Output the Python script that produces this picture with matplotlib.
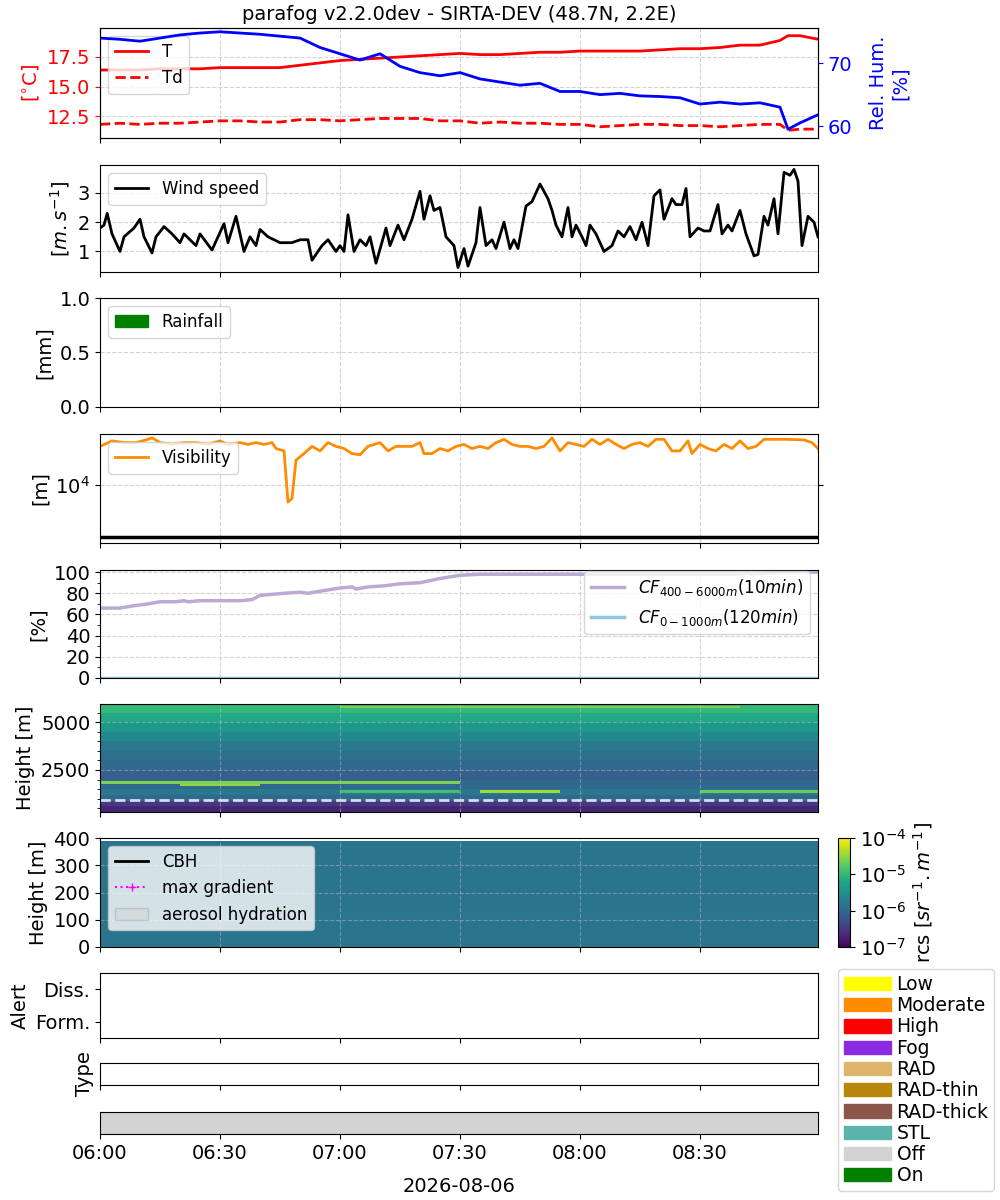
import numpy as np
import matplotlib
matplotlib.use("Agg")
import matplotlib.pyplot as plt
import matplotlib.dates as mdates
from matplotlib.colors import LogNorm
from matplotlib.patches import Patch
from matplotlib.lines import Line2D

t0 = np.datetime64("2026-08-06T06:00")
t_end = np.datetime64("2026-08-06T08:59:30")

# temperature / humidity (minutes after 06:00)
met_min = [0, 5, 10, 15, 20, 25, 30, 35, 40, 45, 50, 55, 60, 65, 70, 75, 80, 85, 90, 95,
           100, 105, 110, 115, 120, 125, 130, 135, 140, 145, 150, 155, 160, 165, 170, 172, 175, 179.5]
temp = [16.4, 16.4, 16.4, 16.5, 16.5, 16.5, 16.6, 16.6, 16.6, 16.6, 16.8, 17.0, 17.2, 17.3, 17.4,
        17.5, 17.6, 17.7, 17.8, 17.7, 17.7, 17.8, 17.9, 17.9, 18.0, 18.0, 18.0, 18.0, 18.1, 18.2,
        18.2, 18.3, 18.5, 18.5, 18.9, 19.3, 19.3, 19.0]
dewp = [11.8, 11.9, 11.8, 11.9, 11.9, 12.0, 12.1, 12.1, 12.0, 12.0, 12.2, 12.2, 12.1, 12.2, 12.3,
        12.3, 12.3, 12.1, 12.1, 11.9, 12.0, 11.9, 11.9, 11.8, 11.8, 11.6, 11.7, 11.8, 11.8, 11.7,
        11.7, 11.6, 11.7, 11.8, 11.8, 11.3, 11.4, 11.4]
rh = [74.0, 73.8, 73.5, 74.0, 74.5, 74.8, 75.0, 74.8, 74.6, 74.3, 74.0, 72.5, 71.5, 70.5, 71.5,
      69.5, 68.5, 68.0, 68.5, 67.5, 67.0, 66.5, 66.8, 65.5, 65.5, 65.0, 65.2, 64.8, 64.7, 64.5,
      63.5, 63.8, 63.5, 63.7, 63.0, 59.5, 60.5, 61.8]

# wind speed
wind_min = [0, 1, 1.8, 3, 5, 6, 8.5, 10, 11, 13, 14, 16, 18, 20, 21, 24, 25, 28, 31, 32, 34, 36,
            37.5, 39, 40, 42, 45, 48, 50, 52, 53, 55.5, 57, 59, 60, 61, 62, 63.5, 65, 66.5, 67.5,
            69, 71.5, 72.5, 74.5, 76, 78, 80, 81, 82.5, 83.5, 85, 86.5, 88.5, 89.5, 91, 92, 94,
            95, 96.5, 98, 99, 101, 102.5, 103.5, 104.5, 106.5, 108, 110, 112, 113, 114, 115.5,
            117, 118, 119, 120.5, 121.5, 122.5, 124, 126, 128, 129.5, 131, 132.5, 134, 135.5,
            137, 138.5, 140, 141, 143, 144, 145.5, 146.5, 147.5, 149.5, 151, 152.5, 154.5,
            155.5, 157, 158, 160, 161.5, 163.5, 164.5, 166, 167, 168.5, 169.5, 171, 172.5,
            173.5, 174.5, 175.5, 177, 178.5, 179.5]
wind = [1.8, 1.9, 2.3, 1.6, 1.0, 1.5, 1.8, 2.1, 1.5, 0.95, 1.5, 1.85, 1.6, 1.3, 1.6, 1.2, 1.6,
        1.05, 1.95, 1.3, 2.2, 1.0, 1.5, 1.2, 1.75, 1.5, 1.3, 1.3, 1.4, 1.4, 0.7, 1.2, 1.4, 1.0,
        1.2, 1.0, 2.25, 1.0, 1.4, 1.2, 1.5, 0.6, 1.8, 1.2, 1.9, 1.4, 2.1, 3.05, 2.1, 2.9, 2.4,
        2.5, 1.5, 1.2, 0.45, 1.1, 0.5, 1.3, 2.5, 1.2, 1.4, 1.1, 2.0, 1.1, 1.4, 1.1, 2.55, 2.7,
        3.3, 2.8, 2.4, 1.9, 1.5, 2.5, 1.5, 1.9, 1.5, 1.2, 1.9, 1.6, 1.0, 1.2, 1.7, 1.5, 1.85,
        1.4, 2.0, 1.2, 2.9, 3.1, 2.1, 2.8, 2.6, 2.6, 3.15, 1.5, 1.8, 1.7, 1.7, 2.6, 1.6, 1.9,
        1.7, 2.4, 1.6, 0.85, 0.9, 2.2, 1.9, 2.8, 1.6, 3.7, 3.6, 3.8, 3.4, 1.2, 2.2, 2.0, 1.5]

# visibility
vis_min = [0, 3, 6, 9, 12, 13, 15, 18, 21, 24, 27, 30, 32, 35, 37, 39, 41, 43, 44, 46, 47, 48,
           49, 51, 53, 55, 57, 59, 61, 63, 65, 67, 70, 72, 74, 76, 78, 80, 81, 83, 85, 87, 89,
           91, 93, 95, 97, 99, 101, 103, 105, 107, 109, 111, 113, 115, 117, 119, 121, 123, 125,
           127, 129, 131, 133, 135, 137, 139, 141, 143, 145, 147, 148, 150, 152, 154, 156, 158,
           160, 162, 164, 166, 172, 176, 178, 179.5]
vis = [5.5e4, 7e4, 6.5e4, 6.5e4, 7.5e4, 8e4, 6.5e4, 6e4, 6.5e4, 6.5e4, 6e4, 7e4, 6e4, 6.5e4,
       6e4, 6.5e4, 6e4, 6.5e4, 5e4, 4.5e4, 4.7e3, 5.5e3, 3e4, 4e4, 5.5e4, 4.5e4, 6.5e4, 5.5e4,
       5e4, 4e4, 3.8e4, 5.5e4, 6.5e4, 4.5e4, 5.5e4, 5.5e4, 5.5e4, 6.5e4, 4e4, 4e4, 5e4, 4.5e4,
       5.5e4, 6e4, 5e4, 5.5e4, 5e4, 6.5e4, 7.5e4, 6e4, 5.5e4, 5.5e4, 5e4, 5.5e4, 8e4, 4.5e4,
       6.5e4, 6e4, 5.5e4, 7.5e4, 6e4, 7.5e4, 6e4, 5e4, 6e4, 6.5e4, 5.5e4, 7.5e4, 7.5e4, 4.5e4,
       4.5e4, 7e4, 4e4, 6e4, 5e4, 4.5e4, 6e4, 5e4, 7e4, 5e4, 5.5e4, 7.5e4, 7.5e4, 7.3e4,
       6.5e4, 5e4]

# cloud fraction
cf_min = [0, 5, 8, 12, 15, 19, 21, 22, 25, 35, 38, 40, 46, 50, 52, 55, 60, 63, 64, 67, 71, 75,
          80, 85, 90, 95, 160, 162, 163, 167, 170, 179.5]
cf_high = [66, 66, 68, 70, 72, 72, 73, 72, 73, 73, 74, 78, 80, 81, 80, 82, 85, 86, 84, 86, 87,
           89, 90, 94, 97, 98, 98, 99, 98, 99, 100, 100]
cf_low = [0, 0]

# lidar rcs, log10 values: background per height band and layers
band_edges = [300, 600, 900, 1200, 1500, 2000, 2500, 3000, 3500, 4000, 4500, 5000, 5500, 5950]
band_log = [-6.7, -6.5, -6.0, -5.8, -6.0, -6.1, -6.0, -5.9, -5.8, -5.6, -5.4, -5.2, -5.0]
layer_h = [1820, 1700, 1380, 1380, 1380, 5800]
layer_t_start = [0, 20, 60, 95, 150, 60]
layer_t_end = [90, 40, 90, 115, 179.5, 160]
layer_log = [-4.6, -4.5, -4.9, -4.4, -4.7, -4.6]
low_log = -5.85

type_labels = ["Low", "Moderate", "High", "Fog", "RAD", "RAD-thin", "RAD-thick", "STL", "Off", "On"]
type_colors = ["yellow", "darkorange", "red", "blueviolet", "#deb56b", "darkgoldenrod",
               "#8c564b", "#5ab4ac", "lightgray", "green"]


def to_time(mins):
    return t0 + (np.array(mins) * 60).astype("timedelta64[s]")


plt.rcParams["font.size"] = 14
fig = plt.figure(figsize=(10, 12), dpi=100)


def ax_px(top, bottom, left=100, right=818):
    return fig.add_axes([left / 1000, 1 - bottom / 1200, (right - left) / 1000, (bottom - top) / 1200])


def style(ax, last=False):
    ax.set_xlim(t0, t_end)
    ax.xaxis.set_major_locator(mdates.MinuteLocator(byminute=[0, 30]))
    ax.xaxis.set_major_formatter(mdates.DateFormatter("%H:%M"))
    ax.grid(True, ls="--", color="lightgray")
    if not last:
        ax.tick_params(labelbottom=False)


# 1 temperature
ax1 = ax_px(28, 138)
ax1.plot(to_time(met_min), temp, color="red", lw=2, label="T")
ax1.plot(to_time(met_min), dewp, color="red", lw=2, ls="--", label="Td")
ax1.set_ylim(10.65, 19.95)
ax1.set_yticks([12.5, 15.0, 17.5])
ax1.set_ylabel("[$^{\\circ}$C]", color="red")
ax1.tick_params(axis="y", colors="red")
ax1.legend(loc="upper left", fontsize=12)
style(ax1)
ax1.set_title("parafog v2.2.0dev - SIRTA-DEV (48.7N, 2.2E)", fontsize=14)
ax1b = ax1.twinx()
ax1b.plot(to_time(met_min), rh, color="blue", lw=2)
ax1b.set_ylim(58.1, 75.6)
ax1b.set_yticks([60, 70])
ax1b.set_ylabel("Rel. Hum.\n[%]", color="blue", labelpad=12)
ax1b.tick_params(axis="y", colors="blue")

# 2 wind
ax2 = ax_px(165, 272)
ax2.plot(to_time(wind_min), wind, color="black", lw=2, label="Wind speed")
ax2.set_ylim(0.3, 3.95)
ax2.set_yticks([1, 2, 3])
ax2.set_ylabel("[$m.s^{-1}$]")
ax2.legend(loc="upper left", fontsize=12)
style(ax2)

# 3 rain
ax3 = ax_px(298, 407)
ax3.set_ylim(0, 1)
ax3.set_yticks([0, 0.5, 1.0])
ax3.set_ylabel("[mm]")
ax3.legend(handles=[Patch(color="green", label="Rainfall")], loc="upper left", fontsize=12)
style(ax3)

# 4 visibility
ax4 = ax_px(434, 543)
ax4.plot(to_time(vis_min), vis, color="darkorange", lw=2, label="Visibility")
ax4.axhline(1000, color="black", lw=2.5)
ax4.set_yscale("log")
ax4.set_ylim(770, 9.5e4)
ax4.set_yticks([1e4])
ax4.yaxis.set_minor_locator(matplotlib.ticker.NullLocator())
ax4.tick_params(axis="y", right=True)
ax4.set_ylabel("[m]")
ax4.legend(loc="upper left", fontsize=12)
style(ax4)

# 5 cloud fraction
ax5 = ax_px(570, 678)
ax5.plot(to_time(cf_min), cf_high, color="#bcaad4", lw=2.5, label="$CF_{400-6000m}(10min)$")
ax5.plot(to_time([0, 179.5]), cf_low, color="#92c5de", lw=2.5, label="$CF_{0-1000m}(120min)$")
ax5.set_ylim(0, 102)
ax5.set_yticks(range(0, 101, 20))
ax5.set_yticks(range(0, 101, 10), minor=True)
ax5.set_ylabel("[%]")
ax5.legend(loc="center right", bbox_to_anchor=(1.0, 0.7), fontsize=12)
style(ax5)

# 6 rcs full range
norm = LogNorm(1e-7, 1e-4)
t_edges = np.arange(0, 181, 1.0)
t_mid = t_edges[:-1] + 0.5
h_edges = np.arange(300, 5960, 50.0)
h_mid = h_edges[:-1] + 25
grid = np.zeros((len(h_mid), len(t_mid)))
for i in range(len(band_log)):
    sel = (h_mid >= band_edges[i]) & (h_mid < band_edges[i + 1])
    grid[sel, :] = band_log[i]
for h, ts, te, v in zip(layer_h, layer_t_start, layer_t_end, layer_log):
    rows = np.abs(h_mid - h) < 60
    cols = (t_mid >= ts) & (t_mid <= te)
    grid[np.ix_(rows, cols)] = v
x_edges = mdates.date2num(to_time(t_edges).astype("datetime64[ms]").astype(object))
ax6 = ax_px(704, 812)
ax6.pcolormesh(x_edges, h_edges, 10 ** grid, cmap="viridis", norm=norm)
ax6.axhline(950, color="white", ls="--", lw=2, alpha=0.8)
ax6.set_ylim(300, 5950)
ax6.set_yticks([2500, 5000])
ax6.set_yticks(range(500, 6000, 500), minor=True)
ax6.set_ylabel("Height [m]")
style(ax6)
ax6.grid(True, ls="--", color="lightgray", alpha=0.4)

# 7 rcs low levels
h_low = np.arange(0, 400, 10.0)
grid_low = np.full((len(h_low) - 1, len(t_mid)), 10 ** low_log)
ax7 = ax_px(838, 947)
mesh = ax7.pcolormesh(x_edges, h_low, grid_low, cmap="viridis", norm=norm)
ax7.set_ylim(0, 400)
ax7.set_yticks(range(0, 401, 100))
ax7.set_ylabel("Height [m]")
ax7.legend(handles=[Line2D([], [], color="black", lw=2, label="CBH"),
                    Line2D([], [], color="magenta", marker="+", ls=":", label="max gradient"),
                    Patch(facecolor="lightgray", edgecolor="darkgray", alpha=0.5, label="aerosol hydration")],
           loc="upper left", fontsize=12)
style(ax7)
ax7.grid(True, ls="--", color="lightgray", alpha=0.4)
cax = fig.add_axes([838 / 1000, 1 - 947 / 1200, 12 / 1000, 109 / 1200])
cb = fig.colorbar(mesh, cax=cax)
cb.set_ticks([1e-7, 1e-6, 1e-5, 1e-4])
cb.set_label("rcs [$sr^{-1}.m^{-1}$]")

# 8 alert
ax8 = ax_px(973, 1038)
ax8.set_ylim(-0.5, 1.5)
ax8.set_yticks([0, 1])
ax8.set_yticklabels(["Form.", "Diss."])
ax8.set_ylabel("Alert")
style(ax8)
ax8.grid(False)

# 9 type
ax9 = ax_px(1063, 1085)
ax9.set_yticks([])
ax9.set_ylabel("Type")
style(ax9)
ax9.grid(False)

# 10 on/off
ax10 = ax_px(1112, 1134)
ax10.axvspan(t0, t_end, color="lightgray")
ax10.set_yticks([])
style(ax10, last=True)
ax10.grid(False)
ax10.set_xlabel("2026-08-06", labelpad=10)

fig.legend(handles=[Patch(color=c, label=l) for l, c in zip(type_labels, type_colors)],
           loc="upper left", bbox_to_anchor=(0.829, 1 - 960 / 1200), fontsize=13.5,
           handlelength=2.5, labelspacing=0.12, borderpad=0.3, handletextpad=0.3)

fig.savefig("out.png", dpi=100)
